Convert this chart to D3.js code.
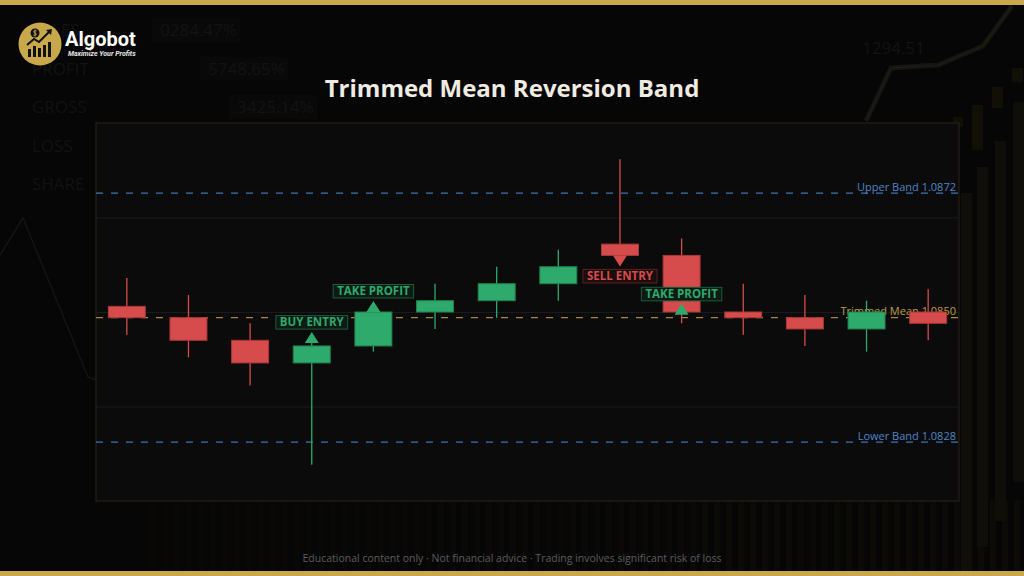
<!DOCTYPE html>
<html>
  <head>
    <meta charset="utf-8">
    <title>Trimmed Mean Reversion Band</title>
    <script src="https://cdn.jsdelivr.net/npm/d3@7"></script>
    <style>
      html, body { margin: 0; padding: 0; background: #060606; overflow: hidden; }
      text { font-family: "Open Sans", "DejaVu Sans", sans-serif; }
    </style>
  </head>
  <body>
    <div id="chart"></div>

    <script>
    // candle data
    var bars   = ["1","2","3","4","5","6","7","8","9","10","11","12","13","14"]
    var opens  = [1.0852,1.0850,1.0846,1.0842,1.0845,1.0851,1.0853,1.0856,1.0863,1.0861,1.0851,1.0850,1.0848,1.0851]
    var highs  = [1.0857,1.0854,1.0849,1.0846,1.0852,1.0856,1.0859,1.0862,1.0878,1.0864,1.0856,1.0854,1.0853,1.0855]
    var lows   = [1.0847,1.0843,1.0838,1.0824,1.0844,1.0848,1.0850,1.0853,1.0860,1.0849,1.0847,1.0845,1.0844,1.0846]
    var closes = [1.0850,1.0846,1.0842,1.0845,1.0851,1.0853,1.0856,1.0859,1.0861,1.0851,1.0850,1.0848,1.0851,1.0849]

    // band levels
    var bandNames  = ["Upper Band","Trimmed Mean","Lower Band"]
    var bandValues = [1.0872, 1.0850, 1.0828]

    // trade markers
    var markerBars   = ["4","5","9","10"]
    var markerLabels = ["BUY ENTRY","TAKE PROFIT","SELL ENTRY","TAKE PROFIT"]
    var markerPrices = [1.08455, 1.0851, 1.0861, 1.08505]
    var markerDirs   = ["up","up","down","up"]

    var yDomain = [1.08176, 1.08844]

    // faint background numbers
    var bgWords  = ["SALES","PROFIT","GROSS","LOSS","SHARE"]
    var bgValues = ["0284.47%","5748.65%","3425.14%"]

    var W = 1024, H = 576
    var plot = {left: 96, top: 123, right: 959, bottom: 501}

    var GREEN = "#2eaa6c", RED = "#d64c4c", GOLD = "#c9a84c"

    var svg = d3.select("#chart").append("svg")
        .attr("width", W).attr("height", H)

    svg.append("rect").attr("width", W).attr("height", H).attr("fill", "#060606")

    // ---- background decoration ----
    var deco = svg.append("g")

    // vertical stripes at the bottom
    for (var sx = 150; sx < W; sx += 12) {
        deco.append("rect")
            .attr("x", sx).attr("y", 500).attr("width", 6).attr("height", 72)
            .attr("fill", "#0c0b08").attr("opacity", 0.4 + 0.6 * (sx - 150) / (W - 150))
    }

    // faint stats text top-left
    deco.selectAll(".bgw").data(bgWords).enter().append("text")
        .attr("x", 32).attr("y", function(d, i) { return 36 + i * 38.5 })
        .attr("fill", "#121212").style("font-size", "17px").text(function(d) { return d })
    var bgValX = [160, 208, 237]
    deco.selectAll(".bgr").data(bgValues).enter().append("rect")
        .attr("x", function(d, i) { return bgValX[i] - 8 }).attr("y", function(d, i) { return 18 + i * 38.5 })
        .attr("width", 88).attr("height", 24).attr("fill", "#090909")
    deco.selectAll(".bgv").data(bgValues).enter().append("text")
        .attr("x", function(d, i) { return bgValX[i] }).attr("y", function(d, i) { return 36 + i * 38.5 })
        .attr("fill", "#131313").style("font-size", "17px").text(function(d) { return d })
    deco.append("text").attr("x", 862).attr("y", 54)
        .attr("fill", "#131311").style("font-size", "17px").text("1294.51")

    // left zigzag
    deco.append("polyline")
        .attr("points", "0,255 23,218 88,377 96,380")
        .attr("fill", "none").attr("stroke", "#141414").attr("stroke-width", 1.5)

    // glowing line top right
    deco.append("polyline")
        .attr("points", "866,121 891,68 938,65 983,46 1012,6")
        .attr("fill", "none").attr("stroke", "#15140d").attr("stroke-width", 5)
    deco.append("polyline")
        .attr("points", "866,121 891,68 938,65 983,46 1012,6")
        .attr("fill", "none").attr("stroke", "#1e1e1b").attr("stroke-width", 1.2)

    // faint bars on the right
    var decoBars = [[961,193],[977,167],[995,141],[1013,102]]
    decoBars.forEach(function(b) {
        deco.append("rect").attr("x", b[0]).attr("y", b[1]).attr("width", 11).attr("height", 380)
            .attr("fill", "#0f0e08")
    })
    var decoCandles = [[953,117,10,10],[972,105,11,45],[992,87,11,21],[1012,68,11,14]]
    decoCandles.forEach(function(c) {
        deco.append("rect").attr("x", c[0]).attr("y", c[1]).attr("width", c[2]).attr("height", c[3])
            .attr("fill", "#120f07")
    })

    // gold frame bars
    svg.append("rect").attr("x", 0).attr("y", 0).attr("width", W).attr("height", 5).attr("fill", GOLD)
    svg.append("rect").attr("x", 0).attr("y", 571).attr("width", W).attr("height", 5).attr("fill", GOLD)

    // ---- logo ----
    var logo = svg.append("g")
    logo.append("circle").attr("cx", 40).attr("cy", 44).attr("r", 21.5).attr("fill", GOLD)
    ;[[28,49,3,8],[33,46,3,11],[38,48,3,9],[43,45,3,12],[48,42,3,15]].forEach(function(b) {
        logo.append("rect").attr("x", b[0]).attr("y", b[1]).attr("width", b[2]).attr("height", b[3]).attr("fill", "#111")
    })
    logo.append("polyline").attr("points", "27,45 34,39 39,42 50,31")
        .attr("fill", "none").attr("stroke", "#111").attr("stroke-width", 2)
    logo.append("path").attr("d", "M46,30 L52,29 L51,35 Z").attr("fill", "#111")
    logo.append("circle").attr("cx", 35).attr("cy", 33).attr("r", 4.5).attr("fill", "#111")
    // dollar sign drawn as a small path
    logo.append("path").attr("d", "M36.6,31 Q35,30 33.8,31.2 Q33.4,32.6 35,33 Q36.6,33.4 36.2,34.8 Q35,36 33.4,35 M35,29.6 L35,36.4")
        .attr("fill", "none").attr("stroke", GOLD).attr("stroke-width", 0.9)
    logo.append("text").attr("x", 65).attr("y", 46)
        .attr("fill", "#ffffff").style("font-size", "20px").style("font-weight", 700)
        .style("font-family", "Roboto, 'Open Sans', sans-serif").text("Algobot")
    logo.append("text").attr("x", 68).attr("y", 56)
        .attr("fill", "#e8e8e8").style("font-size", "7px").style("font-weight", 700)
        .style("font-style", "italic").style("font-family", "Roboto, sans-serif").text("Maximize Your Profits")

    // ---- title ----
    svg.append("text").attr("x", 512).attr("y", 97).attr("text-anchor", "middle")
        .attr("fill", "#f1ece2").style("font-size", "24px").style("font-weight", 700)
        .text("Trimmed Mean Reversion Band")

    // ---- plot area ----
    svg.append("rect")
        .attr("x", plot.left).attr("y", plot.top)
        .attr("width", plot.right - plot.left).attr("height", plot.bottom - plot.top)
        .attr("fill", "#0b0b0b").attr("stroke", "#2b2516").attr("stroke-width", 1)

    var x = d3.scaleBand().domain(bars).range([plot.left, plot.right]).padding(0)
    var y = d3.scaleLinear().domain(yDomain).range([plot.bottom, plot.top])

    // gridlines at the quarters of the price range
    var span = yDomain[1] - yDomain[0]
    var gridVals = [0.25, 0.5, 0.75].map(function(f) { return yDomain[0] + f * span })
    svg.append("g")
        .attr("transform", "translate(" + plot.left + ",0)")
        .call(d3.axisLeft(y).tickValues(gridVals).tickSize(-(plot.right - plot.left)).tickFormat(""))
        .call(function(g) { g.select(".domain").remove() })
        .selectAll("line").attr("stroke", "#1a1a1a")

    // band lines
    var bandColors = ["#3f74b3", "#a6893a", "#3f74b3"]
    var bandText   = ["#4f86c8", "#bd9d45", "#4f86c8"]
    var bands = svg.append("g")
    bands.selectAll("line").data(bandValues).enter().append("line")
        .attr("x1", plot.left).attr("x2", plot.right)
        .attr("y1", function(d) { return y(d) }).attr("y2", function(d) { return y(d) })
        .attr("stroke", function(d, i) { return bandColors[i] })
        .attr("stroke-width", 1.4).attr("stroke-dasharray", "7,8")
    bands.selectAll("text").data(bandValues).enter().append("text")
        .attr("x", plot.right - 3).attr("y", function(d) { return y(d) - 2.5 })
        .attr("text-anchor", "end")
        .attr("fill", function(d, i) { return bandText[i] })
        .style("font-size", "11px")
        .text(function(d, i) { return bandNames[i] + " " + d.toFixed(4) })

    // candles
    var bw = x.bandwidth() * 0.6
    var candles = svg.append("g").selectAll("g").data(bars).enter().append("g")
    candles.append("line")
        .attr("x1", function(d) { return x(d) + x.bandwidth() / 2 })
        .attr("x2", function(d) { return x(d) + x.bandwidth() / 2 })
        .attr("y1", function(d, i) { return y(highs[i]) })
        .attr("y2", function(d, i) { return y(lows[i]) })
        .attr("stroke", function(d, i) { return closes[i] >= opens[i] ? GREEN : RED })
        .attr("stroke-width", 1.3)
    candles.append("rect")
        .attr("x", function(d) { return x(d) + (x.bandwidth() - bw) / 2 })
        .attr("y", function(d, i) { return y(Math.max(opens[i], closes[i])) })
        .attr("width", bw)
        .attr("height", function(d, i) { return Math.max(1, Math.abs(y(opens[i]) - y(closes[i]))) })
        .attr("fill", function(d, i) { return closes[i] >= opens[i] ? GREEN : RED })
        .attr("stroke", function(d, i) { return closes[i] >= opens[i] ? "#22804f" : "#a83838" })
        .attr("stroke-width", 1)

    // markers
    var marks = svg.append("g").selectAll("g").data(markerBars).enter().append("g")
        .attr("transform", function(d, i) {
            return "translate(" + (x(d) + x.bandwidth() / 2) + "," + y(markerPrices[i]) + ")"
        })
    marks.append("path")
        .attr("d", function(d, i) {
            return markerDirs[i] == "up" ? "M-7,0 L7,0 L0,-11 Z" : "M-7,0 L7,0 L0,11 Z"
        })
        .attr("fill", function(d, i) { return markerDirs[i] == "up" ? GREEN : RED })
    marks.each(function(d, i) {
        var g = d3.select(this)
        var up = markerDirs[i] == "up"
        var col = markerLabels[i] == "SELL ENTRY" ? RED : GREEN
        var boxH = 13.5
        var boxY = up ? -11 - 3 - boxH : 11 + 3
        var box = g.append("rect")
        var t = g.append("text")
            .attr("x", 0).attr("y", boxY + boxH / 2 + 4)
            .attr("text-anchor", "middle")
            .attr("fill", col).style("font-size", "11.5px").style("font-weight", 700)
            .text(markerLabels[i])
        var tw = t.node().getComputedTextLength()
        box.attr("x", -tw / 2 - 4).attr("y", boxY).attr("width", tw + 8).attr("height", boxH)
            .attr("fill", col == RED ? "#1c0d0d" : "#0c1b13")
            .attr("stroke", col == RED ? "#5a2222" : "#1d5a3c").attr("stroke-width", 1)
    })

    // footer
    svg.append("text").attr("x", 512).attr("y", 562).attr("text-anchor", "middle")
        .attr("fill", "#5c5c5c").style("font-size", "10.5px")
        .text("Educational content only \u00b7 Not financial advice \u00b7 Trading involves significant risk of loss")
    </script>
  </body>
</html>
